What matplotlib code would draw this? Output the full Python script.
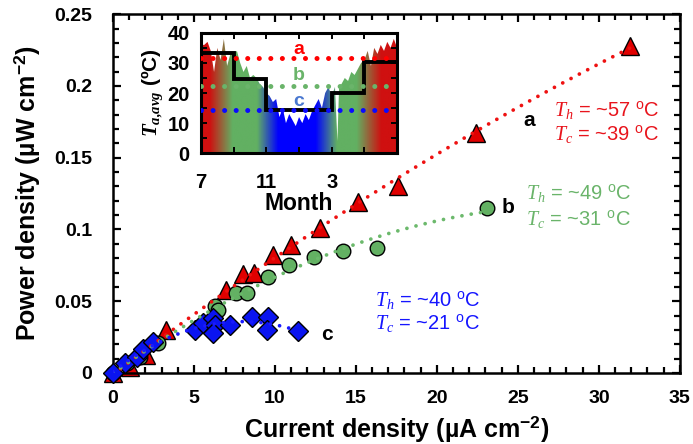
import numpy as np
import matplotlib
matplotlib.use("Agg")
import matplotlib.pyplot as plt
from matplotlib.colors import LinearSegmentedColormap
from matplotlib.patches import Polygon
from matplotlib.ticker import MultipleLocator

plt.rcParams["font.family"] = "Liberation Sans"
plt.rcParams["mathtext.fontset"] = "custom"
plt.rcParams["mathtext.rm"] = "Liberation Sans"
plt.rcParams["mathtext.it"] = "Liberation Serif:italic"
plt.rcParams["mathtext.bf"] = "Liberation Sans:bold"
plt.rcParams["mathtext.bfit"] = "Liberation Serif:italic:bold"

# main data (current density uA/cm2, power density uW/cm2)
xa = [0, 1.05, 2.07, 3.3, 7.0, 8.0, 8.7, 9.9, 11.0, 12.8, 15.1, 17.6, 22.4, 31.9]
ya = [0, 0.0044, 0.0125, 0.030, 0.058, 0.069, 0.070, 0.082, 0.089, 0.101, 0.119, 0.130, 0.167, 0.228]

xb = [0, 0.85, 1.67, 2.8, 6.3, 6.5, 7.6, 8.25, 9.6, 10.9, 12.4, 14.2, 16.3, 23.1]
yb = [0, 0.0067, 0.0114, 0.0206, 0.047, 0.044, 0.0555, 0.056, 0.067, 0.075, 0.081, 0.085, 0.087, 0.115]

xc = [0, 0.74, 1.46, 1.87, 2.5, 5.06, 5.57, 6.2, 6.3, 6.2, 7.2, 8.56, 9.6, 9.5, 11.4]
yc = [0, 0.0067, 0.0114, 0.017, 0.0218, 0.030, 0.0346, 0.038, 0.0334, 0.0276, 0.0334, 0.039, 0.0388, 0.030, 0.029]

x_ticks = [0, 5, 10, 15, 20, 25, 30, 35]
y_ticks = [0, 0.05, 0.1, 0.15, 0.2, 0.25]
y_ticklabels = ["0", "0.05", "0.1", "0.15", "0.2", "0.25"]

# inset: ambient temperature (months after July) and monthly averages
month_off = [0, 0.2, 0.4, 0.6, 0.8, 1.0, 1.2, 1.4, 1.6, 1.8, 2.0, 2.2, 2.4, 2.6, 2.8, 3.0,
             3.2, 3.4, 3.6, 3.8, 4.0, 4.2, 4.4, 4.6, 4.8, 5.0, 5.2, 5.4, 5.6, 5.8, 6.0,
             6.2, 6.4, 6.6, 6.8, 7.0, 7.2, 7.4, 7.6, 7.8, 8.0, 8.2, 8.35, 8.45, 8.6, 8.8, 9.0,
             9.2, 9.4, 9.6, 9.8, 10.0, 10.2, 10.4, 10.6, 10.8, 11.0, 11.2, 11.4, 11.6, 11.8, 12.0]
temp = [36, 36, 37, 34, 27, 35, 31, 38, 29, 33, 33, 34, 30, 27, 29, 25,
        26, 25, 23, 22, 20, 19, 17, 18, 12, 15, 10, 13, 11, 9, 12,
        10, 13, 11, 14, 16, 18, 15, 20, 22, 19, 22, 4, 22, 23, 25, 24,
        27, 26, 28, 30, 31, 34, 29, 35, 33, 36, 34, 37, 35, 38, 35]
step_edges = [0, 2, 4, 8, 10, 12]
step_vals = [33.2, 24.6, 14.3, 19.9, 30.4]
avg_a, avg_b, avg_c = 31.6, 22.3, 14.3

red = "#e00000"
green = "#63b163"
blue = "#0a14f0"

fig = plt.figure(figsize=(6.93, 4.44), dpi=100)
ax = fig.add_axes([0.163, 0.160, 0.818, 0.808])

dot = dict(linestyle=(0, (0.01, 2.5)), dash_capstyle="round", lw=2.7, zorder=5)
for xs, ys, c in [(xa, ya, "#ee1111"), (xb, yb, "#6cb96c"), (xc, yc, "#1a1aff")]:
    p = np.polyfit(xs, ys, 2)
    xx = np.linspace(0, max(xs), 200)
    ax.plot(xx, np.polyval(p, xx), color=c, **dot)

ax.plot(xa, ya, "^", ms=13.5, mfc=red, mec="k", mew=1, ls="none", zorder=2, clip_on=False)
ax.plot(xb, yb, "o", ms=10.5, mfc=green, mec="k", mew=1, ls="none", zorder=3, clip_on=False)
ax.plot(xc, yc, "D", ms=10.5, mfc=blue, mec="k", mew=1, ls="none", zorder=4, clip_on=False)

ax.set_xticks(x_ticks)
ax.set_xticklabels([str(v) for v in x_ticks])
ax.set_yticks(y_ticks)
ax.set_yticklabels(y_ticklabels)
ax.xaxis.set_minor_locator(MultipleLocator(1))
ax.yaxis.set_minor_locator(MultipleLocator(0.01))
ax.set_xlim(0, 35)
ax.set_ylim(0, 0.25)
ax.tick_params(which="both", direction="in", top=True, right=True, width=1.6)
ax.tick_params(which="major", length=6)
ax.tick_params(which="minor", length=4)
ax.tick_params(axis="x", pad=12, labelsize=14)
ax.tick_params(axis="y", pad=15, labelsize=14)
for t in ax.get_xticklabels() + ax.get_yticklabels():
    t.set_fontweight("bold")
for s in ax.spines.values():
    s.set_linewidth(1.8)
ax.set_xlabel(r"Current density (µA cm$^{\mathbf{-2}}$)", fontsize=18, fontweight="bold")
ax.set_ylabel(r"Power density (µW cm$^{\mathbf{-2}}$)", fontsize=18, fontweight="bold")
ax.xaxis.set_label_coords(0.5, -0.115)
ax.yaxis.set_label_coords(-0.125, 0.5)

ax.text(25.7, 0.176, "a", fontsize=15, fontweight="bold", ha="center", va="center")
ax.text(24.4, 0.1155, "b", fontsize=15, fontweight="bold", ha="center", va="center")
ax.text(13.2, 0.027, "c", fontsize=15, fontweight="bold", ha="center", va="center")
tsize = 14.5
ax.text(27.2, 0.183, r"$T_h$ = ~57 $^{\mathrm{o}}$C", color="#e8141c", fontsize=tsize, va="center")
ax.text(27.2, 0.166, r"$T_c$ = ~39 $^{\mathrm{o}}$C", color="#e8141c", fontsize=tsize, va="center")
ax.text(25.5, 0.125, r"$T_h$ = ~49 $^{\mathrm{o}}$C", color="#6ab46a", fontsize=tsize, va="center")
ax.text(25.5, 0.107, r"$T_c$ = ~31 $^{\mathrm{o}}$C", color="#6ab46a", fontsize=tsize, va="center")
ax.text(16.2, 0.0505, r"$T_h$ = ~40 $^{\mathrm{o}}$C", color="#1515ff", fontsize=tsize, va="center")
ax.text(16.2, 0.0345, r"$T_c$ = ~21 $^{\mathrm{o}}$C", color="#1515ff", fontsize=tsize, va="center")

# inset
ax_in = fig.add_axes([0.290, 0.655, 0.283, 0.271])
grad = LinearSegmentedColormap.from_list("season", [
    (0 / 12, "#cf1010"), (0.5 / 12, "#cf1010"), (1.9 / 12, "#62b062"),
    (3.4 / 12, "#62b062"), (4.7 / 12, "#0000ff"), (7.0 / 12, "#0000ff"),
    (8.3 / 12, "#62b062"), (9.5 / 12, "#62b062"), (11.0 / 12, "#cf1010"),
    (12 / 12, "#cf1010")])
im = ax_in.imshow(np.linspace(0, 1, 600)[np.newaxis, :], extent=[0, 12, 0, 40],
                  aspect="auto", cmap=grad, zorder=1)
verts = np.column_stack([[0] + month_off + [12], [0] + temp + [0]])
poly = Polygon(verts, closed=True, facecolor="none", edgecolor="none", transform=ax_in.transData)
ax_in.add_patch(poly)
im.set_clip_path(poly)

ax_in.stairs(step_vals, step_edges, baseline=None, color="k", lw=2.8, zorder=3)
idot = dict(linestyle=(0, (0.01, 2.3)), dash_capstyle="round", lw=3.6, zorder=4)
ax_in.plot([0, 12], [avg_a, avg_a], color="#ff0000", **idot)
ax_in.plot([0, 12], [avg_b, avg_b], color="#6ab46a", **idot)
ax_in.plot([0, 12], [avg_c, avg_c], color="#0a0aff", **idot)
ax_in.text(6, 34.6, "a", color="#ff0000", fontsize=14, fontweight="bold", ha="center", va="center")
ax_in.text(6, 25.7, "b", color="#6ab46a", fontsize=14, fontweight="bold", ha="center", va="center")
ax_in.text(6, 17.3, "c", color="#4a78d0", fontsize=14, fontweight="bold", ha="center", va="center")

ax_in.set_xlim(0, 12)
ax_in.set_ylim(0, 40)
ax_in.set_xticks([0, 4, 8])
ax_in.set_xticklabels(["7", "11", "3"])
ax_in.xaxis.set_minor_locator(MultipleLocator(2))
ax_in.set_yticks([0, 10, 20, 30, 40])
ax_in.yaxis.set_minor_locator(MultipleLocator(5))
ax_in.tick_params(which="both", direction="in", top=True, right=True, width=1.4, length=4)
ax_in.tick_params(axis="x", which="major", pad=14, labelsize=14.5)
ax_in.tick_params(axis="y", pad=8, labelsize=14.5)
for t in ax_in.get_xticklabels() + ax_in.get_yticklabels():
    t.set_fontweight("bold")
for s in ax_in.spines.values():
    s.set_linewidth(2.2)
ax_in.set_xlabel("Month", fontsize=16.5, fontweight="bold", labelpad=0)
ax_in.set_ylabel(r"$\mathbfit{T}_{\mathbfit{a{,}avg}}$ (ºC)", fontsize=15, fontweight="bold", labelpad=2)

fig.savefig("out.png", dpi=100)
